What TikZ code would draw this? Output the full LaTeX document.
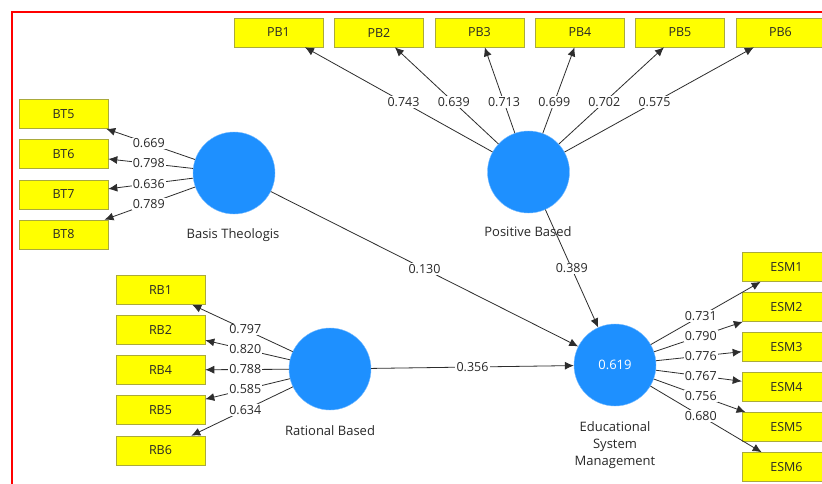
\documentclass[tikz,border=0pt]{standalone}
\usepackage{fontspec}
\setmainfont{Open Sans}
\usetikzlibrary{arrows.meta}
\definecolor{lvblue}{RGB}{30,144,255}
\definecolor{boxyel}{RGB}{255,255,0}
\definecolor{boxedge}{RGB}{170,170,60}
\definecolor{lncol}{RGB}{45,45,45}
\definecolor{txtcol}{RGB}{40,40,40}
\tikzset{
  ind/.style={draw=boxedge, line width=0.6pt, fill=boxyel, minimum width=89pt, minimum height=29pt, inner sep=0pt, text=txtcol, font=\fontsize{12.5}{14}\selectfont},
  lv/.style={circle, fill=lvblue, draw=lvblue!60, line width=0.4pt, minimum size=82pt, inner sep=0pt},
  arr/.style={draw=lncol, line width=0.8pt, -{Latex[length=9pt,width=8pt]}},
  lbl/.style={fill=white, inner sep=1.2pt, text=txtcol, font=\fontsize{12.5}{14}\selectfont},
  lvname/.style={text=txtcol, font=\fontsize{13}{17}\selectfont, align=center}
}
\newcommand\lnk[3]{\draw[arr] (#1) -- (#2); \path (#1.center) -- node[lbl]{#3} (#2.center);}
\begin{document}
\begin{tikzpicture}[x=1pt,y=-1pt]
\useasboundingbox (0,0) rectangle (822,483);
\clip (0,0) rectangle (822,483);
\fill[white] (0,0) rectangle (822,483);
% red frame
\draw[red, line width=2pt] (12,490) -- (12,12) -- (830,12);
% latent variables
\node[lv] (bt) at (234,173) {};
\node[lv] (pb) at (528.5,172) {};
\node[lv] (rb) at (330,369) {};
\node[lv, text=white, font=\fontsize{13}{15}\selectfont] (esm) at (615,365) {0.619};
\node[lvname] (btl) at (233,235) {Basis Theologis};
\node[lvname] (pbl) at (528,232) {Positive Based};
\node[lvname] (rbl) at (330,431) {Rational Based};
\node[lvname] (esml) at (615,445) {Educational\\System\\Management};
% indicators
\node[ind] (bt5) at (63.5,114) {BT5};
\node[ind] (bt6) at (63.5,154) {BT6};
\node[ind] (bt7) at (63.5,194.5) {BT7};
\node[ind] (bt8) at (63.5,234.5) {BT8};
\node[ind] (pb1) at (278.5,32.5) {PB1};
\node[ind] (pb2) at (379,32.5) {PB2};
\node[ind] (pb3) at (479.5,32.5) {PB3};
\node[ind] (pb4) at (580,32.5) {PB4};
\node[ind] (pb5) at (680,32.5) {PB5};
\node[ind] (pb6) at (780.5,32.5) {PB6};
\node[ind] (rb1) at (160.5,290) {RB1};
\node[ind] (rb2) at (160.5,330) {RB2};
\node[ind] (rb4) at (160.5,370) {RB4};
\node[ind] (rb5) at (160.5,410) {RB5};
\node[ind] (rb6) at (160.5,450.5) {RB6};
\node[ind] (esm1) at (786.5,267) {ESM1};
\node[ind] (esm2) at (786.5,307) {ESM2};
\node[ind] (esm3) at (786.5,347) {ESM3};
\node[ind] (esm4) at (786.5,387) {ESM4};
\node[ind] (esm5) at (786.5,427) {ESM5};
\node[ind] (esm6) at (786.5,467) {ESM6};
% outer loadings
\lnk{bt}{bt5}{0.669}
\lnk{bt}{bt6}{0.798}
\lnk{bt}{bt7}{0.636}
\lnk{bt}{bt8}{0.789}
\lnk{pb}{pb1}{0.743}
\lnk{pb}{pb2}{0.639}
\lnk{pb}{pb3}{0.713}
\lnk{pb}{pb4}{0.699}
\lnk{pb}{pb5}{0.702}
\lnk{pb}{pb6}{0.575}
\lnk{rb}{rb1}{0.797}
\lnk{rb}{rb2}{0.820}
\lnk{rb}{rb4}{0.788}
\lnk{rb}{rb5}{0.585}
\lnk{rb}{rb6}{0.634}
\lnk{esm}{esm1}{0.731}
\lnk{esm}{esm2}{0.790}
\lnk{esm}{esm3}{0.776}
\lnk{esm}{esm4}{0.767}
\lnk{esm}{esm5}{0.756}
\lnk{esm}{esm6}{0.680}
% path coefficients
\lnk{bt}{esm}{0.130}
\lnk{pb}{esm}{0.389}
\lnk{rb}{esm}{0.356}
\end{tikzpicture}
\end{document}
